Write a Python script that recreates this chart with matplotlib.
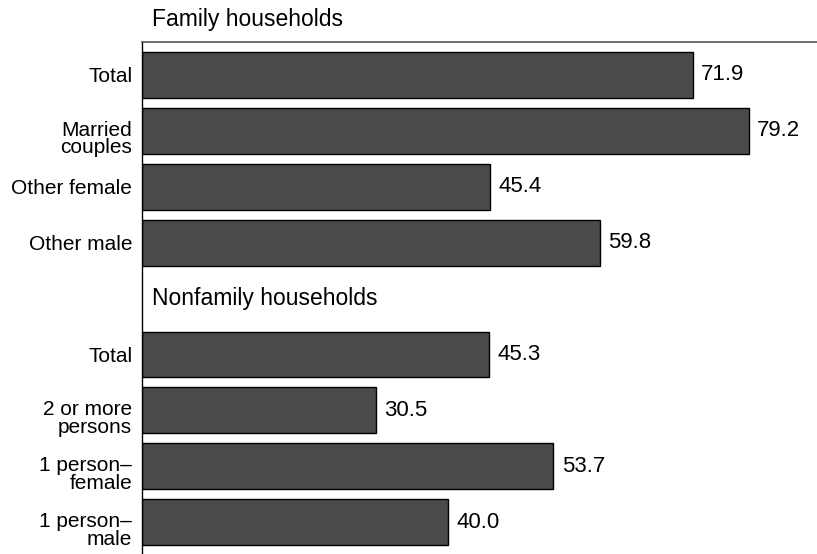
import numpy as np
import matplotlib
matplotlib.use('Agg')
import matplotlib.pyplot as plt
import matplotlib.transforms as mtransforms

# household groups and their bar values
family_labels = ['Total', 'Married\ncouples', 'Other female', 'Other male']
family_values = [71.9, 79.2, 45.4, 59.8]
nonfamily_labels = ['Total', '2 or more\npersons', '1 person–\nfemale', '1 person–\nmale']
nonfamily_values = [45.3, 30.5, 53.7, 40.0]
group_titles = ['Family households', 'Nonfamily households']

plt.rcParams['font.family'] = ['Liberation Sans', 'DejaVu Sans']


def main():
	fig = plt.figure(figsize=(8.17, 5.54), dpi=100)
	ax = fig.add_axes([142 / 817, 0, 1 - 142 / 817, 1 - 42 / 554])

	# family rows at 0..3, leave one slot for the second header, nonfamily at 5..8
	fam_pos = np.arange(len(family_values))
	nonfam_pos = np.arange(len(nonfamily_values)) + len(family_values) + 1
	positions = np.concatenate([fam_pos, nonfam_pos])
	values = family_values + nonfamily_values
	labels = family_labels + nonfamily_labels

	ax.barh(positions, values, height=0.82, color='#4a4a4a', edgecolor='black', linewidth=1.0)

	for p, v in zip(positions, values):
		ax.annotate(f'{v:.1f}', (v, p), xytext=(6, 0), textcoords='offset points',
			va='center', ha='left', fontsize=16)

	# group headers sit one slot above each group
	header_pos = [fam_pos[0] - 1, nonfam_pos[0] - 1]
	for title, p in zip(group_titles, header_pos):
		ax.annotate(title, (0, p), xytext=(7, 0), textcoords='offset points',
			va='center', ha='left', fontsize=16.5, annotation_clip=False)

	ax.set_yticks(positions)
	ax.set_yticklabels(labels, fontsize=15, linespacing=0.9)
	ax.tick_params(axis='y', length=0, pad=7)
	ax.set_xticks([])

	# two-line labels hang a bit lower than the bar centre
	drop = mtransforms.ScaledTranslation(0, -5 / 72, fig.dpi_scale_trans)
	for tl in ax.get_yticklabels():
		if '\n' in tl.get_text():
			tl.set_transform(tl.get_transform() + drop)

	ax.set_xlim(0, 88.1)
	ax.set_ylim(8.57, -0.59)

	ax.spines['right'].set_visible(False)
	ax.spines['bottom'].set_visible(False)
	ax.spines['left'].set_linewidth(1.0)
	ax.spines['top'].set_color('#555555')
	ax.spines['top'].set_linewidth(1.2)

	fig.savefig('out.png', dpi=100)


if __name__ == '__main__':
	main()
